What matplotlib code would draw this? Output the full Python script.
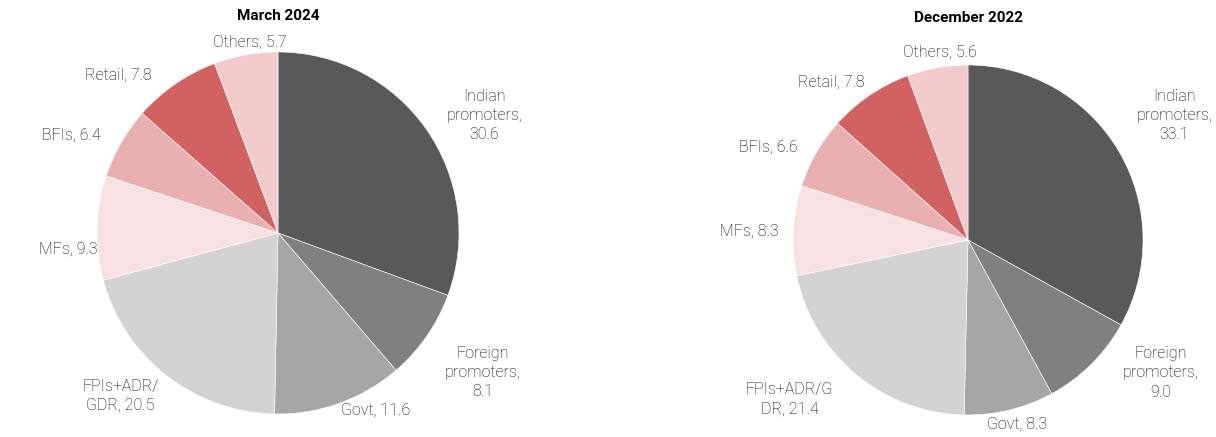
import matplotlib.pyplot as plt

plt.rcParams['font.family'] = ['Roboto', 'DejaVu Sans']

categories = ['Indian\npromoters', 'Foreign\npromoters', 'Govt', 'FPIs+ADR/\nGDR',
              'MFs', 'BFIs', 'Retail', 'Others']
categories_dec = ['Indian\npromoters', 'Foreign\npromoters', 'Govt', 'FPIs+ADR/G\nDR',
                  'MFs', 'BFIs', 'Retail', 'Others']
mar_2024 = [30.6, 8.1, 11.6, 20.5, 9.3, 6.4, 7.8, 5.7]
dec_2022 = [33.1, 9.0, 8.3, 21.4, 8.3, 6.6, 7.8, 5.6]

colors = ['#595959', '#808080', '#a6a6a6', '#d3d3d3',
          '#f9e1e3', '#e8b0b0', '#d26262', '#f2cacc']

# label placement (in pie radius units), Excel style
pos_mar = [(1.14, 0.65), (1.13, -0.77), (0.54, -0.98), (-0.87, -0.90),
           (-1.16, -0.09), (-1.14, 0.54), (-0.88, 0.87), (-0.155, 1.055)]
pos_dec = [(1.18, 0.71), (1.10, -0.76), (0.28, -1.05), (-1.02, -0.91),
           (-1.25, 0.05), (-1.14, 0.53), (-0.78, 0.90), (-0.16, 1.074)]


def make_label(lab, v):
    # promoters labels break before the value, others keep it on the last line
    if lab.endswith('promoters'):
        return f'{lab},\n{v:.1f}'
    return f'{lab}, {v:.1f}'


def draw_pie(ax, values, labels, positions):
    ax.pie(values, colors=colors, startangle=90, counterclock=False,
           wedgeprops=dict(linewidth=0.4, edgecolor='white'))
    for v, lab, (x, y) in zip(values, labels, positions):
        ax.text(x, y, make_label(lab, v), ha='center', va='center',
                fontsize=11.5, color='#000000', fontweight='light',
                linespacing=1.35)
    ax.set_xlim(-1.6, 1.6)
    ax.set_ylim(-1.3, 1.3)
    ax.set_aspect('equal')
    ax.axis('off')


fig = plt.figure(figsize=(12.16, 4.37), dpi=100)
W, H = 1216, 437

# left pie: centre (278, 233), radius ~181 px
r1 = 181
ax1 = fig.add_axes([(278 - 1.6 * r1) / W, (H - 233 - 1.3 * r1) / H,
                    3.2 * r1 / W, 2.6 * r1 / H])
draw_pie(ax1, mar_2024, categories, pos_mar)
fig.text(278 / W, 1 - 16 / H, 'March 2024', ha='center', va='center',
         fontsize=11, fontweight='bold', color='#000000')

# right pie: centre (968, 240), radius ~175 px
r2 = 175
ax2 = fig.add_axes([(968 - 1.6 * r2) / W, (H - 240 - 1.3 * r2) / H,
                    3.2 * r2 / W, 2.6 * r2 / H])
draw_pie(ax2, dec_2022, categories_dec, pos_dec)
fig.text(968 / W, 1 - 18 / H, 'December 2022', ha='center', va='center',
         fontsize=11, fontweight='bold', color='#000000')

fig.savefig('out.png', dpi=100)
